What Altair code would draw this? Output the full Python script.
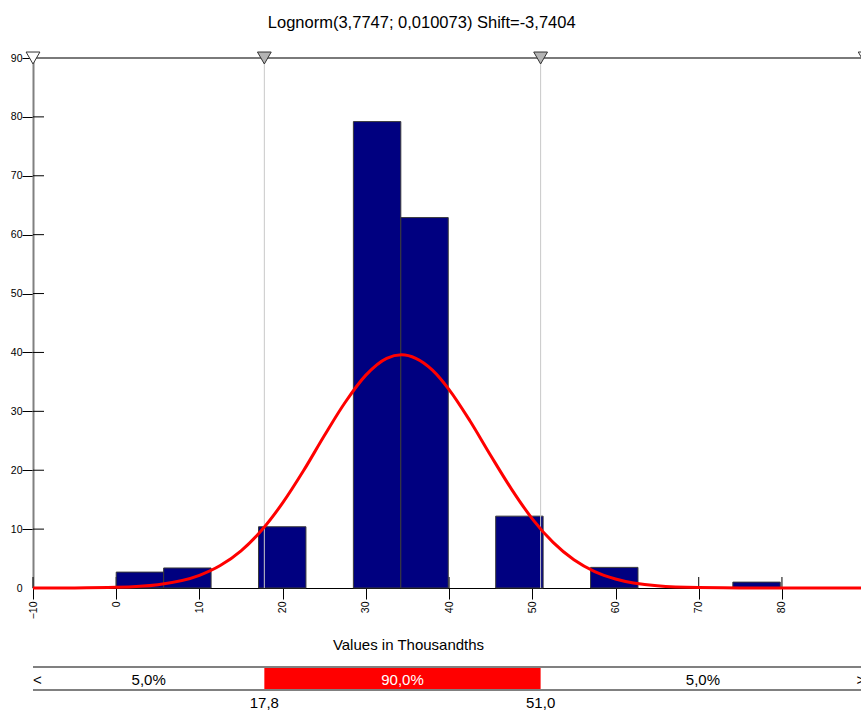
import altair as alt
import pandas as pd

# ---- data ----
bin_start = [0.0, 5.7, 17.1, 28.5, 34.2, 45.6, 57.0, 74.1]
bin_end = [5.7, 11.4, 22.8, 34.2, 39.9, 51.3, 62.7, 79.8]
bar_height = [2.7, 3.4, 10.4, 79.2, 62.9, 12.2, 3.5, 1.0]

curve_x = [-10, -5, 0, 5, 10, 12.5, 15, 17.5, 20, 22.5, 25, 27.5, 30, 32.5, 34.3,
           36, 38, 40, 42.5, 45, 47.5, 50, 52.5, 55, 57.5, 60, 65, 70, 75, 80, 89.5]
curve_y = [0.0, 0.02, 0.12, 0.57, 2.15, 3.81, 6.31, 9.85, 14.45, 19.9, 25.85, 31.5, 36.15, 39.0, 39.6,
           39.0, 37.0, 33.7, 28.4, 22.5, 16.8, 11.75, 7.74, 4.79, 2.79, 1.53, 0.38, 0.07, 0.01, 0.0, 0.0]

x_ticks = [-10, 0, 10, 20, 30, 40, 50, 60, 70, 80]
y_ticks = [0, 10, 20, 30, 40, 50, 60, 70, 80, 90]

marker_x = [-10, 17.8, 51.0, 90]
marker_fill = ["white", "#b4b4b4", "#b4b4b4", "white"]

pct_x = [17.8, 51.0]
pct_labels = ["17,8", "51,0"]
band_text_x = [3.9, 34.4, 70.5]
band_texts = ["5,0%", "90,0%", "5,0%"]
band_text_color = ["black", "white", "black"]

title_text = "Lognorm(3,7747; 0,010073) Shift=-3,7404"
x_title = "Values in Thousandths"

X_MIN, X_MAX = -10, 89.5
W, H = 828, 530
FONT = "Liberation Sans"

xs = alt.Scale(domain=[X_MIN, X_MAX], nice=False, zero=False)
ys = alt.Scale(domain=[0, 90], nice=False, zero=False)

bars_df = pd.DataFrame({"x0": bin_start, "x1": bin_end, "h": bar_height})
curve_df = pd.DataFrame({"x": curve_x, "y": curve_y})
xt_df = pd.DataFrame({"x": x_ticks})
yt_df = pd.DataFrame({"y": [v for v in y_ticks if v > 0]})
mk_df = pd.DataFrame({"x": marker_x, "fill": marker_fill})
pct_df = pd.DataFrame({"x": pct_x, "label": pct_labels})
bt_df = pd.DataFrame({"x": band_text_x, "t": band_texts, "c": band_text_color})
band_df = pd.DataFrame({"a": [pct_x[0]], "b": [pct_x[1]]})

xticks_up = alt.Chart(xt_df).mark_rule(color="black", strokeWidth=1).encode(
    x=alt.X("x:Q", scale=xs, axis=alt.Axis(
        values=x_ticks, labelAngle=-90, tickSize=11, tickColor="black",
        domainColor="black", domainWidth=1, labelFont=FONT, labelFontSize=10.5,
        labelColor="black", labelPadding=2, grid=False, title=x_title,
        titleFont=FONT, titleFontSize=15, titleFontWeight="normal",
        titleX=375, titleY=61, titleBaseline="alphabetic", titleColor="black")),
    y=alt.value(H - 11), y2=alt.value(H),
)

yticks_in = alt.Chart(yt_df).mark_rule(color="black", strokeWidth=1).encode(
    y=alt.Y("y:Q", scale=ys, axis=alt.Axis(
        values=y_ticks, tickSize=11,
        tickColor={"condition": {"test": "datum.value == 0", "value": "transparent"}, "value": "black"},
        domainColor="#808080", domainWidth=2, labelFont=FONT, labelFontSize=10.5,
        labelColor="black", labelPadding=0, grid=False, title=None)),
    x=alt.value(0), x2=alt.value(11),
)

bars = alt.Chart(bars_df).mark_rect(fill="#000080", stroke="#3a3a3a", strokeWidth=1).encode(
    x=alt.X("x0:Q", scale=xs), x2="x1:Q",
    y=alt.Y("h:Q", scale=ys), y2=alt.datum(0),
)

pct_lines = alt.Chart(pct_df).mark_rule(color="#c8c8c8", strokeWidth=1).encode(
    x=alt.X("x:Q", scale=xs),
)

top_line = alt.Chart(pd.DataFrame({"y": [90]})).mark_rule(color="#7a7a7a", strokeWidth=2).encode(
    y=alt.Y("y:Q", scale=ys), x=alt.value(0), x2=alt.value(W + 20),
)

curve = alt.Chart(curve_df).mark_line(color="#ff0000", strokeWidth=3, interpolate="monotone").encode(
    x=alt.X("x:Q", scale=xs), y=alt.Y("y:Q", scale=ys),
)

markers = alt.Chart(mk_df).mark_point(shape="triangle-down", size=190, filled=True,
                                      stroke="#333333", strokeWidth=1, opacity=1).encode(
    x=alt.X("x:Q", scale=xs), y=alt.value(0),
    fill=alt.Fill("fill:N", scale=None),
)

band_rect = alt.Chart(band_df).mark_rect(color="#ff0000").encode(
    x=alt.X("a:Q", scale=xs), x2="b:Q",
    y=alt.value(H + 79), y2=alt.value(H + 102),
)

band_top = alt.Chart(band_df).mark_rule(color="#808080", strokeWidth=2).encode(
    x=alt.value(0), x2=alt.value(W + 20), y=alt.value(H + 79))
band_bot = alt.Chart(band_df).mark_rule(color="#808080", strokeWidth=2).encode(
    x=alt.value(0), x2=alt.value(W + 20), y=alt.value(H + 102))

band_txt = alt.Chart(bt_df).mark_text(font=FONT, fontSize=15, baseline="middle", align="center").encode(
    x=alt.X("x:Q", scale=xs), y=alt.value(H + 92), text="t:N",
    color=alt.Color("c:N", scale=None),
)

lt = alt.Chart(pd.DataFrame({"x": [X_MIN], "t": ["<"]})).mark_text(
    font=FONT, fontSize=15, baseline="middle", align="left").encode(
    x=alt.X("x:Q", scale=xs), y=alt.value(H + 92), text="t:N")
gt = alt.Chart(pd.DataFrame({"x": [90], "t": [">"]})).mark_text(
    font=FONT, fontSize=15, baseline="middle", align="right").encode(
    x=alt.X("x:Q", scale=xs), y=alt.value(H + 92), text="t:N")

pct_txt = alt.Chart(pct_df).mark_text(font=FONT, fontSize=15, baseline="middle", align="center",
                                      color="black").encode(
    x=alt.X("x:Q", scale=xs), y=alt.value(H + 114.5), text="label:N",
)

title = alt.Chart(pd.DataFrame({"t": [title_text]})).mark_text(
    font=FONT, fontSize=16.5, baseline="alphabetic", align="center", color="black").encode(
    x=alt.value(388.7), y=alt.value(-30), text="t:N")

chart = alt.layer(
    xticks_up, yticks_in, bars, pct_lines, top_line, curve, markers,
    band_rect, band_top, band_bot, band_txt, lt, gt, pct_txt, title,
).properties(
    width=W, height=H, autosize="none",
    padding={"left": 33, "top": 58, "right": 0, "bottom": 123},
).configure_view(stroke=None).configure(background="white")

chart.save("out.html", embed_options={"renderer": "svg", "actions": False})
